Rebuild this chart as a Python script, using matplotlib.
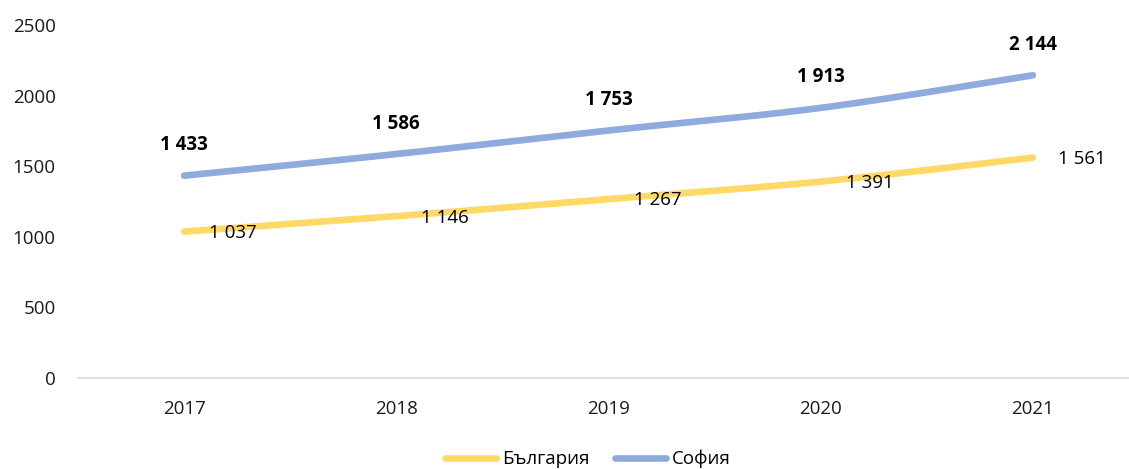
import numpy as np
import matplotlib
matplotlib.use("Agg")
import matplotlib.pyplot as plt

plt.rcParams['font.family'] = ['Open Sans', 'DejaVu Sans']

years = ['2017', '2018', '2019', '2020', '2021']
bulgaria = [1037, 1146, 1267, 1391, 1561]
sofia = [1433, 1586, 1753, 1913, 2144]

yellow = '#FFD966'
blue = '#8FAADC'


def smooth(xs, ys, n=40):
    # Excel-style smoothed line: cubic bezier with 1/6 neighbour tangents
    pts = np.column_stack([xs, ys]).astype(float)
    ext = np.vstack([pts[0], pts, pts[-1]])
    out = []
    for i in range(len(pts) - 1):
        p0 = ext[i + 1]
        p3 = ext[i + 2]
        c1 = p0 + (ext[i + 2] - ext[i]) / 6
        c2 = p3 - (ext[i + 3] - ext[i + 1]) / 6
        t = np.linspace(0, 1, n)[:, None]
        seg = ((1 - t) ** 3) * p0 + 3 * ((1 - t) ** 2) * t * c1 + 3 * (1 - t) * t ** 2 * c2 + t ** 3 * p3
        out.append(seg if i == 0 else seg[1:])
    out = np.vstack(out)
    return out[:, 0], out[:, 1]


def fmt(v):
    return f"{v:,}".replace(",", " ")


W, H = 1129, 469
fig = plt.figure(figsize=(W / 100, H / 100), dpi=100)
ax = fig.add_axes([78 / W, (H - 378) / H, 1061 / W, (378 - 25) / H])

x = np.arange(len(years))
bx, by = smooth(x, bulgaria)
sx, sy = smooth(x, sofia)
ax.plot(bx, by, color=yellow, lw=4.8, solid_capstyle='round', label='България', zorder=3)
ax.plot(sx, sy, color=blue, lw=4.8, solid_capstyle='round', label='София', zorder=3)

for xi, v in zip(x, bulgaria):
    ax.annotate(fmt(v), (xi, v), xytext=(18, -1), textcoords='offset points',
                ha='left', va='center', fontsize=13.5, color='#000000', zorder=4)
for xi, v in zip(x, sofia):
    ax.annotate(fmt(v), (xi, v), xytext=(0, 22), textcoords='offset points',
                ha='center', va='center', fontsize=13.5, fontweight='bold', color='#000000', zorder=4)

ax.set_xlim(-0.5, len(years) - 0.5)
ax.set_ylim(0, 2500)
ax.set_yticks([0, 500, 1000, 1500, 2000, 2500])
ax.set_xticks(x)
ax.set_xticklabels(years)
ax.tick_params(axis='both', length=0, labelsize=13.5, colors='#1a1a1a')
ax.tick_params(axis='y', pad=16)
ax.tick_params(axis='x', pad=16)
for s in ['top', 'right', 'left']:
    ax.spines[s].set_visible(False)
ax.spines['bottom'].set_color('#d9d9d9')
ax.spines['bottom'].set_linewidth(1.2)

fig.legend(loc='center', bbox_to_anchor=(588 / W, 1 - 459 / H), ncol=2, frameon=False,
           fontsize=13.5, handlelength=2.7, handletextpad=0.3, columnspacing=1.4)

fig.savefig('out.png', dpi=100)
